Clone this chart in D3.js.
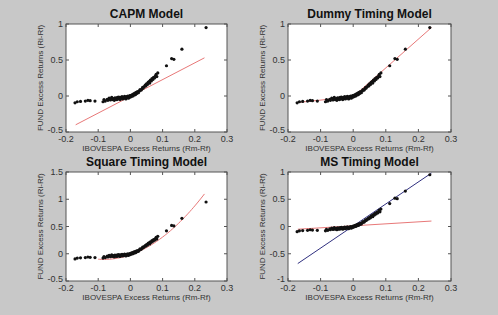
<!DOCTYPE html>
<html>
<head>
<meta charset="utf-8">
<script src="https://cdn.jsdelivr.net/npm/d3@7"></script>
<style>
  body { margin: 0; background: #c8c8c8; }
  svg { display: block; font-family: "Liberation Sans", Arial, sans-serif; }
</style>
</head>
<body>
<svg width="498" height="315"></svg>
<script>
// market excess returns (x) and fund excess returns (y)
const marketRet = [-0.172,-0.165,-0.155,-0.14,-0.132,-0.125,-0.11,-0.085,-0.082,-0.078,-0.072,-0.07,-0.066,-0.062,-0.06,-0.058,-0.055,-0.052,-0.05,-0.048,-0.046,-0.044,-0.042,-0.04,-0.038,-0.036,-0.034,-0.032,-0.03,-0.028,-0.026,-0.024,-0.022,-0.02,-0.018,-0.016,-0.014,-0.012,-0.01,-0.008,-0.006,-0.004,-0.002,0.0,0.002,0.004,0.006,0.008,0.01,0.012,0.014,0.016,0.018,0.02,0.022,0.025,0.028,0.03,0.033,0.036,0.038,0.04,0.043,0.046,0.048,0.05,0.053,0.055,0.058,0.06,0.062,0.065,0.067,0.07,0.072,0.075,0.078,0.08,0.082,0.085,0.112,0.128,0.135,0.16,0.235];
const fundRet = [-0.095,-0.08,-0.075,-0.07,-0.06,-0.065,-0.07,-0.08,-0.05,-0.07,-0.045,-0.06,-0.03,-0.055,-0.04,-0.02,-0.05,-0.035,-0.06,-0.025,-0.045,-0.03,-0.05,-0.02,-0.04,-0.015,-0.035,-0.05,-0.02,-0.03,-0.01,-0.04,-0.02,-0.03,-0.005,-0.025,-0.04,-0.01,-0.02,0.0,-0.03,-0.01,0.005,-0.015,0.01,-0.005,0.02,0.0,0.03,0.015,0.04,0.02,0.05,0.035,0.06,0.045,0.07,0.09,0.08,0.1,0.12,0.11,0.13,0.15,0.14,0.17,0.16,0.19,0.2,0.18,0.22,0.21,0.24,0.23,0.26,0.25,0.28,0.3,0.27,0.32,0.42,0.52,0.51,0.65,0.95];

// fitted lines, as [x, y] end points
const capmFit = [[-0.17, -0.40], [0.23, 0.53]];
const dummyFit = [[-0.17, -0.09], [0.0, -0.01], [0.24, 0.95]];
const squareCoef = [-0.02, 2.03, 12.3]; // a + b x + c x^2
const squareRange = [-0.1, 0.23];
const msFitUp = [[-0.17, -0.68], [0.24, 0.98]];
const msFitDown = [[-0.17, -0.05], [0.24, 0.10]];

const xTicks = [-0.2, -0.1, 0, 0.1, 0.2, 0.3];
const titles = ["CAPM Model", "Dummy Timing Model", "Square Timing Model", "MS Timing Model"];
const yDomains = [[-0.5, 1], [-0.5, 1], [-0.5, 1.5], [-1, 1]];
const yTicks = [[-0.5, 0, 0.5, 1], [-0.5, 0, 0.5, 1], [-0.5, 0, 0.5, 1, 1.5], [-1, -0.5, 0, 0.5, 1]];

const svg = d3.select("svg");
const boxes = [
  {x: 66, y: 24, w: 161, h: 108},
  {x: 288, y: 24, w: 163, h: 108},
  {x: 66, y: 172, w: 161, h: 109},
  {x: 288, y: 172, w: 163, h: 109}
];

function fmt(v) {
  return v === 0 ? "0" : String(v);
}

boxes.forEach((b, i) => {
  const g = svg.append("g").attr("transform", `translate(${b.x},${b.y})`);
  const x = d3.scaleLinear().domain([-0.2, 0.3]).range([0, b.w]);
  const y = d3.scaleLinear().domain(yDomains[i]).range([b.h, 0]);

  g.append("rect").attr("width", b.w).attr("height", b.h)
    .attr("fill", "#fff").attr("stroke", "#555").attr("stroke-width", 1);

  // inward ticks on all four sides
  const tl = 3;
  xTicks.forEach(t => {
    g.append("line").attr("x1", x(t)).attr("x2", x(t)).attr("y1", b.h).attr("y2", b.h - tl).attr("stroke", "#555");
    g.append("line").attr("x1", x(t)).attr("x2", x(t)).attr("y1", 0).attr("y2", tl).attr("stroke", "#555");
    g.append("text").attr("x", x(t)).attr("y", b.h + 10).attr("text-anchor", "middle")
      .attr("font-size", 9).attr("fill", "#333").text(fmt(t));
  });
  yTicks[i].forEach((t, k) => {
    g.append("line").attr("x1", 0).attr("x2", tl).attr("y1", y(t)).attr("y2", y(t)).attr("stroke", "#555");
    g.append("line").attr("x1", b.w).attr("x2", b.w - tl).attr("y1", y(t)).attr("y2", y(t)).attr("stroke", "#555");
    g.append("text").attr("x", -3).attr("y", y(t) + (k === 0 ? 1 : 3)).attr("text-anchor", "end")
      .attr("font-size", 9).attr("fill", "#333").text(fmt(t));
  });

  const line = d3.line().x(d => x(d[0])).y(d => y(d[1]));
  const red = "#e87878";
  if (i === 0) {
    g.append("path").attr("d", line(capmFit)).attr("fill", "none").attr("stroke", red);
  } else if (i === 1) {
    g.append("path").attr("d", line(dummyFit)).attr("fill", "none").attr("stroke", red);
  } else if (i === 2) {
    const pts = d3.range(squareRange[0], squareRange[1] + 0.001, 0.005)
      .map(v => [v, squareCoef[0] + squareCoef[1] * v + squareCoef[2] * v * v]);
    g.append("path").attr("d", line(pts)).attr("fill", "none").attr("stroke", red);
  } else {
    g.append("path").attr("d", line(msFitUp)).attr("fill", "none").attr("stroke", "#303080");
    g.append("path").attr("d", line(msFitDown)).attr("fill", "none").attr("stroke", red);
  }

  g.selectAll("circle").data(marketRet).enter().append("circle")
    .attr("cx", d => x(d)).attr("cy", (d, k) => y(fundRet[k]))
    .attr("r", 1.6).attr("fill", "#111");

  g.append("text").attr("x", b.w / 2).attr("y", -6).attr("text-anchor", "middle")
    .attr("font-size", 12).attr("font-weight", "bold").attr("fill", "#111").text(titles[i]);
  g.append("text").attr("x", b.w / 2).attr("y", b.h + 19).attr("text-anchor", "middle")
    .attr("font-size", 8).attr("fill", "#333").text("IBOVESPA Excess Returns (Rm-Rf)");
  g.append("text").attr("transform", `translate(-23,${b.h / 2}) rotate(-90)`)
    .attr("text-anchor", "middle").attr("font-size", 8).attr("fill", "#333")
    .text("FUND Excess Returns (Ri-Rf)");
});
</script>
</body>
</html>
